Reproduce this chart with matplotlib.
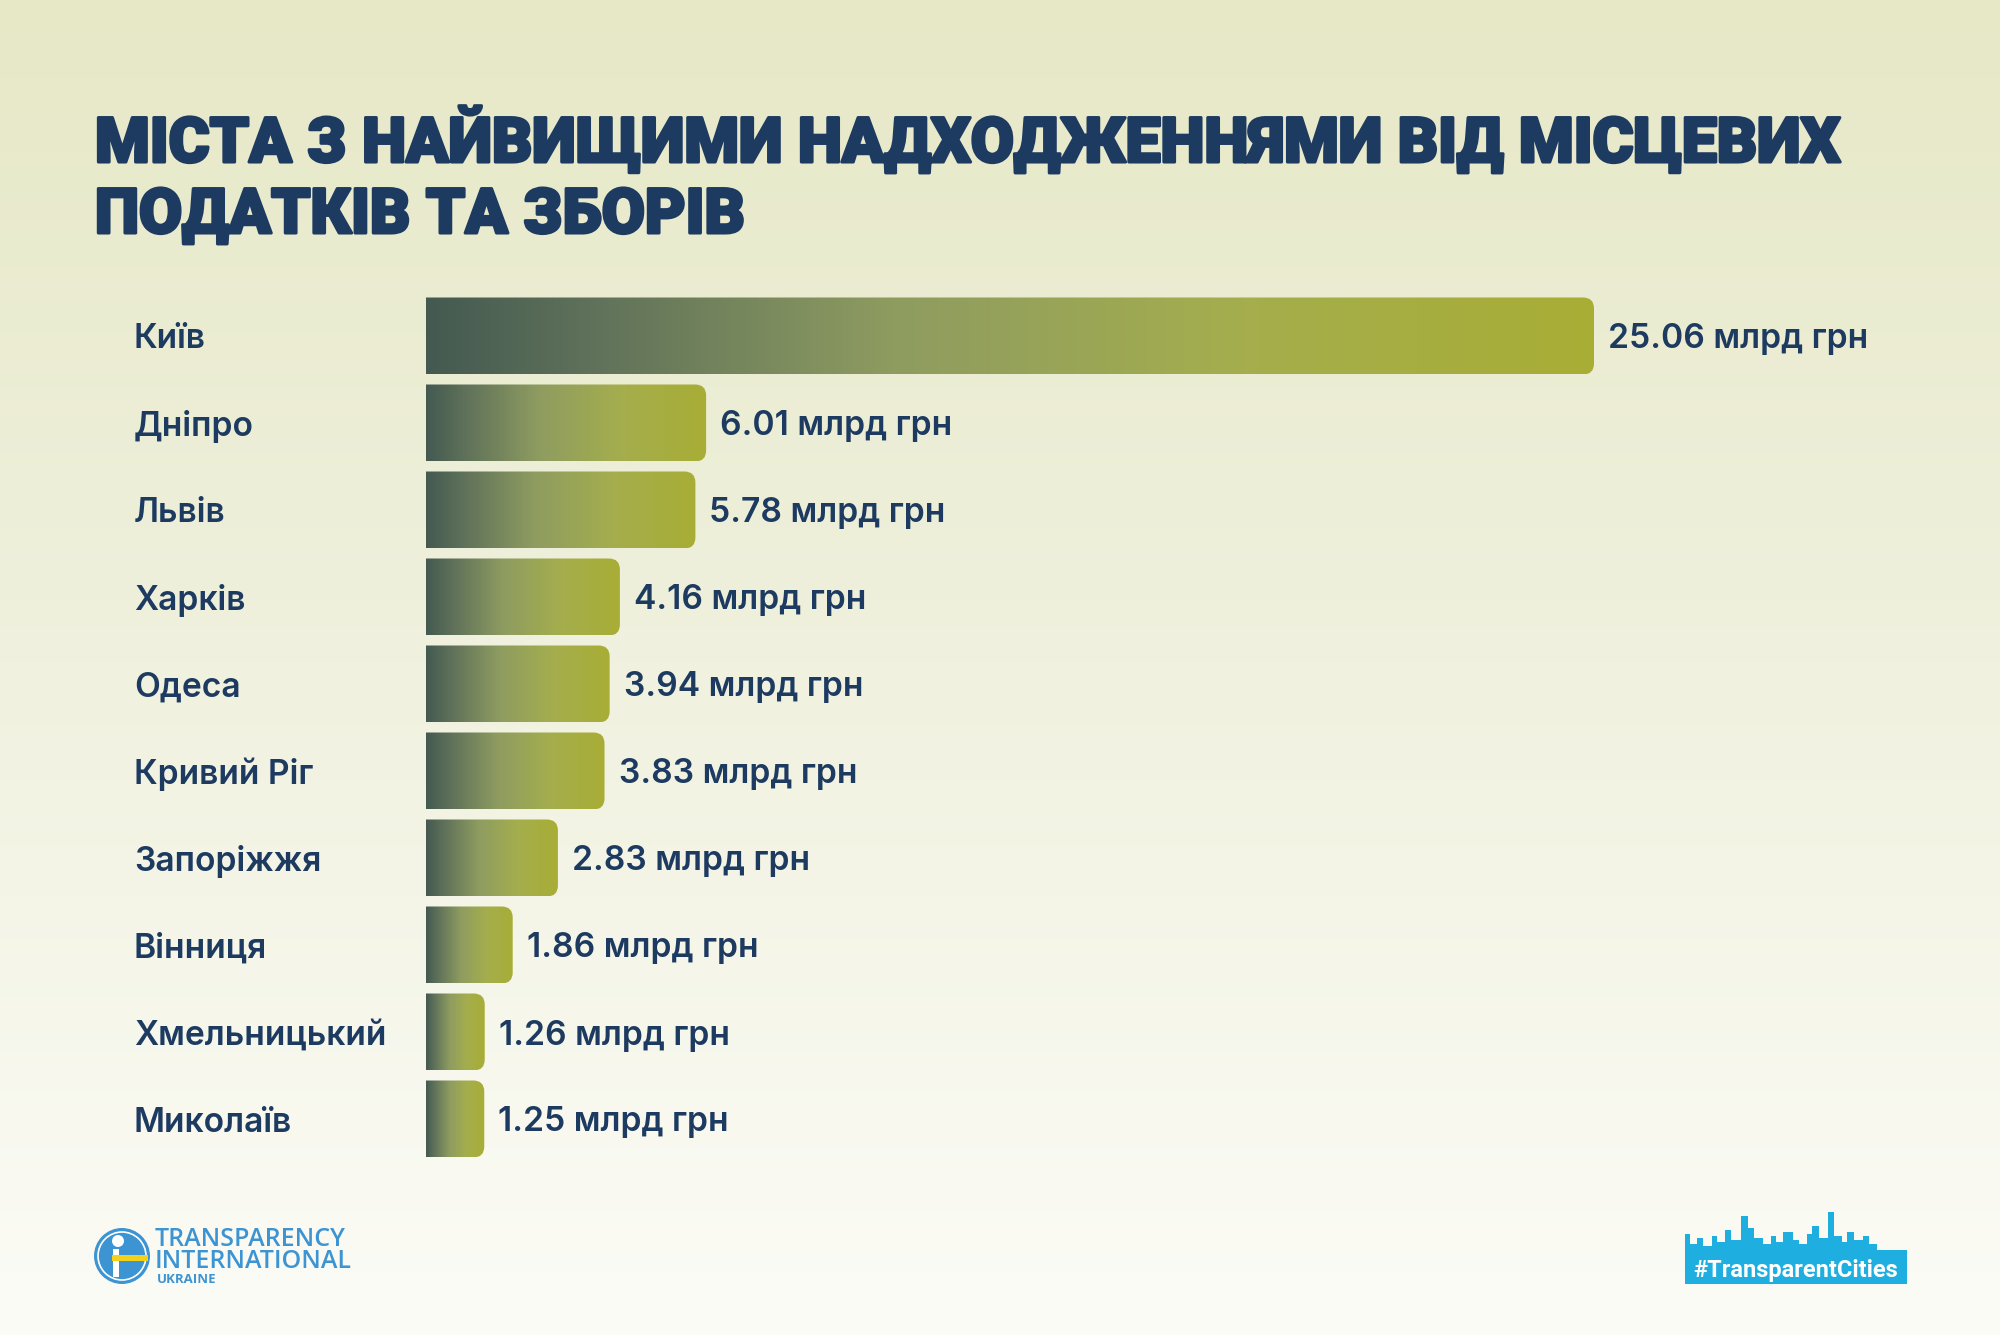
import numpy as np
import matplotlib
matplotlib.use("Agg")
import matplotlib.pyplot as plt
import matplotlib.patheffects as pe
from matplotlib.colors import LinearSegmentedColormap
from matplotlib.patches import FancyBboxPatch, Circle, Rectangle
from matplotlib.transforms import blended_transform_factory

# ---------------- data ----------------
cities = ["Київ", "Дніпро", "Львів", "Харків", "Одеса", "Кривий Ріг",
          "Запоріжжя", "Вінниця", "Хмельницький", "Миколаїв"]
values = [25.06, 6.01, 5.78, 4.16, 3.94, 3.83, 2.83, 1.86, 1.26, 1.25]
unit = "млрд грн"
title_lines = ["МІСТА З НАЙВИЩИМИ НАДХОДЖЕННЯМИ ВІД МІСЦЕВИХ",
               "ПОДАТКІВ ТА ЗБОРІВ"]

W, H, DPI = 2000, 1335, 100
NAVY = "#1d3a60"
fig = plt.figure(figsize=(W / DPI, H / DPI), dpi=DPI)

# ---------------- background (pixel-coordinate axes) ----------------
bg = fig.add_axes([0, 0, 1, 1])
bg.set_xlim(0, W)
bg.set_ylim(H, 0)
bg.axis("off")
bg_cmap = LinearSegmentedColormap.from_list(
    "bg", [(0.0, "#e6e8c6"), (0.45, "#eff0dc"), (1.0, "#fcfcf7")])
grad = np.linspace(0, 1, 256).reshape(-1, 1)
bg.imshow(grad, cmap=bg_cmap, extent=(0, W, H, 0), aspect="auto", zorder=0)

# title
title_font = dict(family=["Roboto", "DejaVu Sans"], weight="black", color=NAVY,
                  path_effects=[pe.withStroke(linewidth=2.2, foreground=NAVY)])
t1 = bg.text(95, 162, title_lines[0], fontsize=48, va="baseline", ha="left", **title_font)
t2 = bg.text(95, 233, title_lines[1], fontsize=48, va="baseline", ha="left", **title_font)
fig.canvas.draw()
r = fig.canvas.get_renderer()
w1 = t1.get_window_extent(r).width
fs = 48 * 1745 / w1
t1.set_fontsize(fs)
t2.set_fontsize(fs)

# ---------------- bar chart axes ----------------
px_per_unit = 1168 / 25.06
ax_left_px, ax_right_px = 426, 1826
ax_top_px, ax_bot_px = 292.5, 1162.5
ax = fig.add_axes([ax_left_px / W, 1 - ax_bot_px / H,
                   (ax_right_px - ax_left_px) / W, (ax_bot_px - ax_top_px) / H])
ax.set_xlim(0, (ax_right_px - ax_left_px) / px_per_unit)
ax.set_ylim(len(cities) - 0.5, -0.5)
ax.axis("off")
ax.patch.set_alpha(0)

px_per_row = (ax_bot_px - ax_top_px) / len(cities)
bar_h = 77 / px_per_row
rad_px = 11
rad_x = rad_px / px_per_unit
aspect = px_per_unit / px_per_row

bar_cmap = LinearSegmentedColormap.from_list(
    "bar", [(0.0, "#445a51"), (0.15, "#61735a"), (0.4, "#8e9c60"),
            (0.7, "#a5ae4d"), (1.0, "#a8ad35")])
hgrad = np.linspace(0, 1, 512).reshape(1, -1)

LABEL_FS = 24.2
for i, v in enumerate(values):
    y0 = i - bar_h / 2
    clip = FancyBboxPatch((-rad_x * 2, y0), v + rad_x * 2, bar_h,
                          boxstyle=f"round,pad=0,rounding_size={rad_x}",
                          mutation_aspect=aspect, transform=ax.transData,
                          facecolor="none", edgecolor="none")
    ax.add_patch(clip)
    im = ax.imshow(hgrad, cmap=bar_cmap, extent=(0, v, i + bar_h / 2, y0),
                   aspect="auto", zorder=2, interpolation="bilinear")
    im.set_clip_path(clip)
    ax.annotate(f"{v:.2f} {unit}", xy=(v, i), xytext=(14 * 72 / DPI, 0),
                textcoords="offset points", ha="left", va="center_baseline",
                fontsize=LABEL_FS, color=NAVY, family=["Inter", "DejaVu Sans"],
                weight="semibold", annotation_clip=False)

lab_tr = blended_transform_factory(fig.transFigure, ax.transData)
for i, c in enumerate(cities):
    ax.text(134 / W, i, c, transform=lab_tr, ha="left", va="center_baseline",
            fontsize=LABEL_FS, color=NAVY, family=["Inter", "DejaVu Sans"],
            weight="semibold")

# ---------------- logos ----------------
TI_BLUE = "#3d94d3"
bg.add_patch(Circle((122, 1256), 28, facecolor=TI_BLUE, edgecolor="none", zorder=3))
bg.add_patch(Circle((122, 1256), 24, facecolor="none", edgecolor="white", lw=1.2, zorder=4))
bg.add_patch(Rectangle((112, 1255), 36, 6, facecolor="#f2d01c", edgecolor="none", zorder=5))
bg.add_patch(Circle((118, 1241), 6, facecolor="white", edgecolor="none", zorder=5))
bg.add_patch(Rectangle((113, 1249), 6, 28, facecolor="white", edgecolor="none", zorder=4))
bg.text(155, 1246, "TRANSPARENCY", fontsize=18, color=TI_BLUE, weight="semibold",
        family=["Open Sans", "DejaVu Sans"], va="baseline", ha="left")
bg.text(155, 1268, "INTERNATIONAL", fontsize=18, color=TI_BLUE, weight="semibold",
        family=["Open Sans", "DejaVu Sans"], va="baseline", ha="left")
bg.text(157, 1283, "UKRAINE", fontsize=9.5, color=TI_BLUE, weight="bold",
        family=["Open Sans", "DejaVu Sans"], va="baseline", ha="left")

TC_BLUE = "#1eaee0"
bx0, bx1, by_top, by_bot = 1685, 1907, 1250, 1284
bg.add_patch(Rectangle((bx0, by_top), bx1 - bx0, by_bot - by_top,
                       facecolor=TC_BLUE, edgecolor="none", zorder=3))
sky_w = [5, 7, 6, 9, 5, 8, 6, 10, 7, 6, 9, 8, 5, 7, 10, 6, 8, 5, 7, 9, 6, 8, 5, 7, 9, 6, 8]
sky_h = [16, 6, 12, 4, 14, 8, 20, 10, 34, 22, 12, 6, 14, 8, 18, 10, 6, 16, 24, 12, 38, 14, 8, 18, 10, 14, 6]
x = bx0
for w_, h_ in zip(sky_w, sky_h):
    if x >= bx1:
        break
    w_ = min(w_, bx1 - x)
    bg.add_patch(Rectangle((x, by_top - h_), w_, h_ + 1, facecolor=TC_BLUE,
                           edgecolor="none", zorder=3))
    x += w_
bg.text((bx0 + bx1) / 2, 1277, "#TransparentCities", fontsize=17, color="white",
        weight="bold", family=["Roboto", "DejaVu Sans"],
        ha="center", va="baseline", zorder=4)

fig.savefig("out.png", dpi=DPI)
